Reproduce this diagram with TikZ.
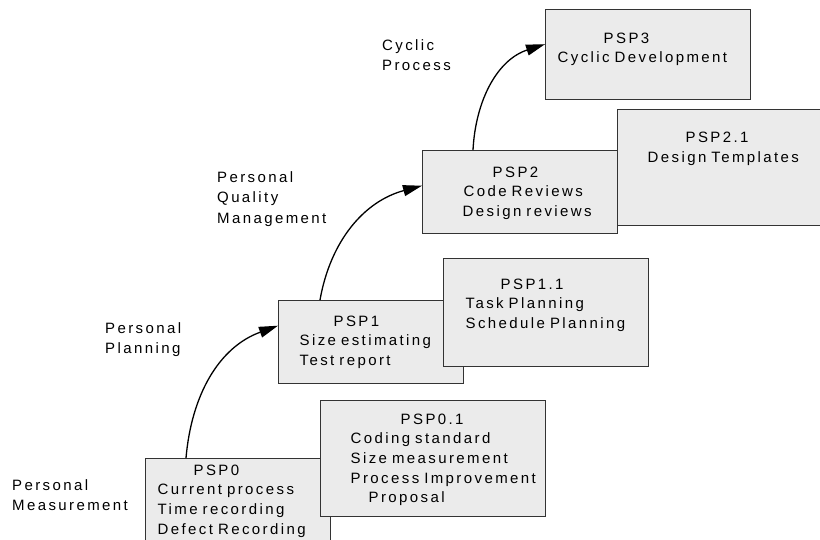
\documentclass[tikz,border=0pt]{standalone}
\usepackage{fontspec}
\newfontfamily\pspfont{Liberation Sans}[LetterSpace=16]
\usetikzlibrary{arrows.meta}
\newcommand\boxfont{\pspfont\fontsize{15pt}{19.7pt}\selectfont}
\newcommand\lblfont{\pspfont\fontsize{15pt}{20.5pt}\selectfont}
\tikzset{
  box/.style={draw=black!80,fill=black!8,line width=1.4pt,anchor=north west,
              inner sep=0pt,align=left,font=\boxfont},
  lbl/.style={anchor=base west,inner sep=0pt,text width=130pt,align=left,
              font=\lblfont},
  ar/.style ={-{Triangle[length=19pt,width=11pt]},line width=1.3pt},
}
\begin{document}
\begin{tikzpicture}[x=1pt,y=1pt]
  \useasboundingbox (0,0) rectangle (820,-539);
  % levels, lower box first
  \node[box,text width=185pt,text height=16.5pt,text depth=75.5pt] (p0) at (145,-458)
    {\hspace*{48pt}PSP0\\\hspace*{12pt}Current process\\\hspace*{12pt}Time recording\\\hspace*{12pt}Defect Recording};
  \node[box,text width=225pt,text height=23.4pt,text depth=92.6pt] (p01) at (320,-400)
    {\hspace*{80pt}PSP0.1\\\hspace*{30pt}Coding standard\\\hspace*{30pt}Size measurement\\\hspace*{30pt}Process Improvement\\\hspace*{48pt}Proposal};
  \node[box,text width=185pt,text height=25.4pt,text depth=57.6pt] (p1) at (278,-300)
    {\hspace*{55pt}PSP1\\\hspace*{21pt}Size estimating\\\hspace*{21pt}Test report};
  \node[box,text width=205pt,text height=30.4pt,text depth=77.6pt] (p11) at (443,-258)
    {\hspace*{57pt}PSP1.1\\\hspace*{22pt}Task Planning\\\hspace*{22pt}Schedule Planning};
  \node[box,text width=195pt,text height=26.4pt,text depth=56.6pt] (p2) at (422,-150)
    {\hspace*{70pt}PSP2\\\hspace*{41pt}Code Reviews\\\hspace*{40pt}Design reviews};
  \node[box,text width=206pt,text height=33pt,text depth=83pt] (p21) at (617,-109)
    {\hspace*{68pt}PSP2.1\\\hspace*{30pt}Design Templates};
  \node[box,text width=205pt,text height=33.4pt,text depth=56.6pt] (p3) at (545,-9)
    {\hspace*{58pt}PSP3\\\hspace*{12pt}Cyclic Development};
  % steps
  \draw[ar] ([xshift=41pt]p0.north west) to[out=85,in=200] ([yshift=16.5pt]p1.west);
  \draw[ar] ([xshift=42pt]p1.north west) to[out=80,in=195] ([yshift=6.5pt]p2.west);
  \draw[ar] ([xshift=51pt]p2.north west) to[out=87,in=198] ([yshift=10.5pt]p3.west);
  \node[lbl] (meas) at (12,-490.4) {Personal\\Measurement};
  \node[lbl] (plan) at (105,-333.4) {Personal\\Planning};
  \node[lbl] (qual) at (217,-182.4) {Personal\\Quality\\Management};
  \node[lbl] (cyc) at (382,-50.4) {Cyclic\\Process};
\end{tikzpicture}
\end{document}
